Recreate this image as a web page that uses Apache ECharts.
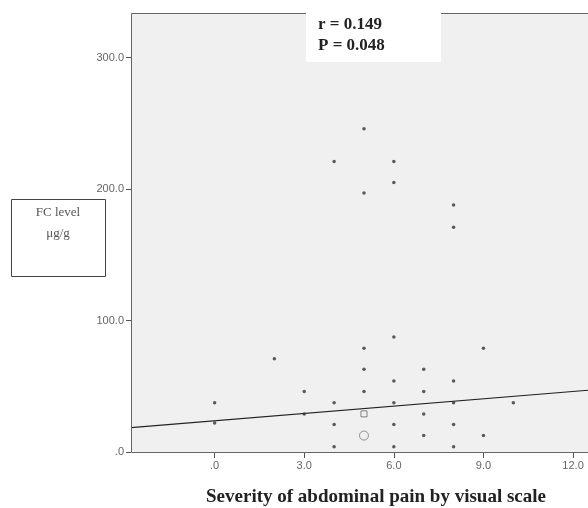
<!DOCTYPE html>
<html><head><meta charset="utf-8">
<style>html,body{margin:0;padding:0;background:#fff;overflow:hidden}#c{width:588px;height:508px}</style>
<script src="https://cdn.jsdelivr.net/npm/echarts@6/dist/echarts.min.js"></script>
</head><body><div id="c"></div>
<script>
// Data
const painScore = [5,4,6,6,5,8,8,2,0,0,6,5,9,5,7,6,8,3,5,7,4,6,8,10,3,7,4,6,8,7,9,4,6,8];
const fcLevel   = [246,221,221,205,197,188,171,71,37.5,22,87.5,79,79,63,63,54,54,46,46,46,37.5,37.5,37.5,37.5,29,29,21,21,21,12.5,12.5,4,4,4];
const hollowCircle = [[5,12.5]];
const hollowSquare = [[5,29]];
const fitX = [-2.8, 12.5];
const fitY = [18.5, 47.0];
const xTicks = [0,3,6,9,12];
const xTickLabels = ['.0','3.0','6.0','9.0','12.0'];
const yTicks = [0,100,200,300];
const yTickLabels = ['.0','100.0','200.0','300.0'];

const chart = echarts.init(document.getElementById('c'));
const labelFont = {fontFamily:'Liberation Sans, Arial, sans-serif', fontSize:11, color:'#666'};
chart.setOption({
  animation:false,
  grid:{left:131, top:13, right:-3, bottom:56, show:true, backgroundColor:'#f0f0f0', borderWidth:0},
  xAxis:{
    type:'value', min:-2.8, max:12.5,
    splitLine:{show:false},
    axisLine:{show:false},
    axisTick:{show:true, length:6, customValues:xTicks, lineStyle:{color:'#555'}},
    axisLabel:Object.assign({customValues:xTicks, margin:8,
      formatter:v=>xTickLabels[xTicks.indexOf(v)]}, labelFont)
  },
  yAxis:{
    type:'value', min:0, max:334,
    splitLine:{show:false},
    axisLine:{show:false, onZero:false},
    axisTick:{show:true, length:5, customValues:yTicks, lineStyle:{color:'#555'}},
    axisLabel:Object.assign({customValues:yTicks, margin:7,
      formatter:v=>yTickLabels[yTicks.indexOf(v)]}, labelFont)
  },
  series:[
    {type:'line', data:fitX.map((x,i)=>[x,fitY[i]]), symbol:'none',
     lineStyle:{color:'#222', width:1.2}, z:2},
    {type:'scatter', data:painScore.map((x,i)=>[x,fcLevel[i]]), symbol:'circle', symbolSize:3.5,
     itemStyle:{color:'#333'}, z:3},
    {type:'scatter', data:hollowCircle, symbol:'circle', symbolSize:9,
     itemStyle:{color:'rgba(0,0,0,0)', borderColor:'#777', borderWidth:1}, z:3},
    {type:'scatter', data:hollowSquare, symbol:'rect', symbolSize:6,
     itemStyle:{color:'rgba(0,0,0,0)', borderColor:'#666', borderWidth:1}, z:3}
  ],
  graphic:[
    {type:'polyline', shape:{points:[[592,13.5],[131.5,13.5],[131.5,452.5],[592,452.5]]}, style:{stroke:'#666', lineWidth:1, fill:null}, z:9},
    {type:'rect', shape:{x:306, y:0, width:135, height:62}, style:{fill:'#fff'}, z:10},
    {type:'text', x:318, y:25, z:11, style:{text:'r = 0.149', verticalAlign:'middle', font:'bold 17px "Liberation Serif", serif', fill:'#222'}},
    {type:'text', x:318, y:46, z:11, style:{text:'P = 0.048', verticalAlign:'middle', font:'bold 17px "Liberation Serif", serif', fill:'#222'}},
    {type:'rect', shape:{x:11.5, y:199.5, width:94, height:77}, style:{fill:'#fff', stroke:'#444', lineWidth:1}, z:10},
    {type:'text', x:58, y:213, z:11, style:{text:'FC level', align:'center', verticalAlign:'middle', font:'13px "Liberation Serif", serif', fill:'#555'}},
    {type:'text', x:58, y:234, z:11, style:{text:'μg/g', align:'center', verticalAlign:'middle', font:'13px "Liberation Serif", serif', fill:'#555'}},
    {type:'text', x:376, y:497, z:11, style:{text:'Severity of abdominal pain by visual scale', align:'center', verticalAlign:'middle', font:'bold 19px "Liberation Serif", serif', fill:'#222'}}
  ]
});
</script></body></html>
